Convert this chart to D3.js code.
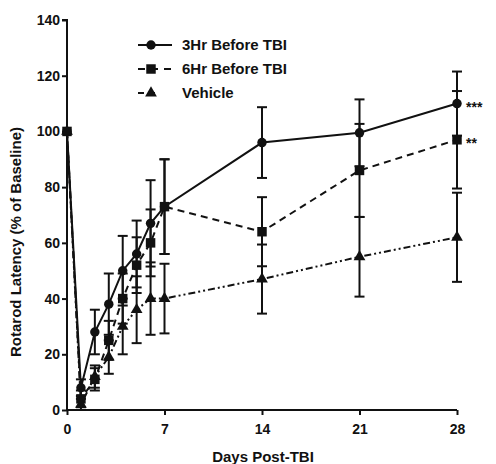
<!DOCTYPE html>
<html>
<head>
<meta charset="utf-8">
<script src="https://cdn.jsdelivr.net/npm/d3@7"></script>
<style>
  body { margin: 0; background: #fff; }
  text { font-family: "Liberation Sans", Arial, sans-serif; font-weight: bold; fill: #111; }
</style>
</head>
<body>
<svg width="496" height="464"></svg>
<script>
const days = [0, 1, 2, 3, 4, 5, 6, 7, 14, 21, 28];

const hr3Mean = [100, 8, 28, 38, 50, 56, 67, 73, 96, 99.5, 110];
const hr3Err  = [0, 3, 8, 11, 12.5, 12, 15.5, 17, 12.7, 12, 11.5];

const hr6Mean = [100, 4, 11, 25, 40, 52, 60, 73, 64, 86, 97];
const hr6Err  = [0, 3, 4, 7, 9, 10, 12, 17, 12.4, 16.7, 17.5];

const vehMean = [100, 2, 12, 19, 30, 36, 40, 40, 47, 55, 62];
const vehErr  = [0, 2, 4, 6, 10, 12, 13, 12.5, 12.4, 14.3, 16];

const xTicks = [0, 7, 14, 21, 28];
const yTicks = [0, 20, 40, 60, 80, 100, 120, 140];

const seriesNames = ["3Hr Before TBI", "6Hr Before TBI", "Vehicle"];
const stars = ["***", "**", ""];

const svg = d3.select("svg");
const margin = { top: 20, right: 39, bottom: 54, left: 67 };
const width = +svg.attr("width") - margin.left - margin.right;
const height = +svg.attr("height") - margin.top - margin.bottom;

const ink = "#111";

const x = d3.scaleLinear().domain([0, 28]).range([0, width]);
const y = d3.scaleLinear().domain([0, 140]).range([height, 0]);

const g = svg.append("g").attr("transform", `translate(${margin.left},${margin.top})`);

// axes
const xAxis = g.append("g")
  .attr("transform", `translate(0,${height})`)
  .call(d3.axisBottom(x).tickValues(xTicks).tickSize(5).tickPadding(9));
const yAxis = g.append("g")
  .call(d3.axisLeft(y).tickValues(yTicks).tickSize(5).tickPadding(2));

[xAxis, yAxis].forEach(a => {
  a.selectAll(".domain, .tick line").attr("stroke", ink).attr("stroke-width", 2);
  a.selectAll(".tick text").attr("font-size", 14).attr("fill", ink)
    .attr("font-family", "Liberation Sans, Arial, sans-serif").attr("font-weight", "bold");
});
yAxis.select(".domain").attr("d", `M0,${height}V0H-5`);
xAxis.select(".domain").attr("d", `M0,0H${width}`);

// axis titles
svg.append("text")
  .attr("x", margin.left + width / 2 + 1)
  .attr("y", 462)
  .attr("text-anchor", "middle")
  .attr("font-size", 15)
  .text("Days Post-TBI");

svg.append("text")
  .attr("transform", `translate(21,${margin.top + height / 2 + 27}) rotate(-90)`)
  .attr("text-anchor", "middle")
  .attr("font-size", 15)
  .text("Rotarod Latency (% of Baseline)");

const series = [
  { name: seriesNames[0], mean: hr3Mean, err: hr3Err, dash: null, shape: d3.symbolCircle, size: 70 },
  { name: seriesNames[1], mean: hr6Mean, err: hr6Err, dash: "7,5", shape: d3.symbolSquare, size: 90 },
  { name: seriesNames[2], mean: vehMean, err: vehErr, dash: "7,3,2,3,2,3", shape: d3.symbolTriangle, size: 60 }
];

const line = d3.line().x(d => x(d.day)).y(d => y(d.v));

series.forEach((s, i) => {
  const pts = days.map((d, k) => ({ day: d, v: s.mean[k], e: s.err[k] }));
  const sg = g.append("g");

  // error bars
  const eb = sg.selectAll(".eb").data(pts.filter(p => p.e > 0)).enter().append("g");
  eb.append("line")
    .attr("x1", d => x(d.day)).attr("x2", d => x(d.day))
    .attr("y1", d => y(d.v - d.e)).attr("y2", d => y(d.v + d.e))
    .attr("stroke", ink).attr("stroke-width", 2);
  [-1, 1].forEach(sign => {
    eb.append("line")
      .attr("x1", d => x(d.day) - 5).attr("x2", d => x(d.day) + 5)
      .attr("y1", d => y(d.v + sign * d.e)).attr("y2", d => y(d.v + sign * d.e))
      .attr("stroke", ink).attr("stroke-width", 2);
  });

  sg.append("path")
    .datum(pts)
    .attr("d", line)
    .attr("fill", "none")
    .attr("stroke", ink)
    .attr("stroke-width", 2)
    .attr("stroke-dasharray", s.dash);

  sg.selectAll(".m").data(pts).enter().append("path")
    .attr("transform", d => `translate(${x(d.day)},${y(d.v)})`)
    .attr("d", d3.symbol().type(s.shape).size(s.size))
    .attr("fill", ink);

  if (stars[i]) {
    const last = pts[pts.length - 1];
    g.append("text")
      .attr("x", x(last.day) + 9)
      .attr("y", y(last.v) + 8)
      .attr("font-size", 14)
      .text(stars[i]);
  }

  // legend
  const ly = 45 + i * 24;
  const lg = svg.append("g");
  lg.append("line")
    .attr("x1", 138).attr("x2", 172).attr("y1", ly).attr("y2", ly)
    .attr("stroke", ink).attr("stroke-width", 2)
    .attr("stroke-dasharray", s.dash ? (i === 1 ? "7,6,7,6" : "6,4,2,3,2,20") : null);
  lg.append("path")
    .attr("transform", `translate(151,${ly})`)
    .attr("d", d3.symbol().type(s.shape).size(s.size))
    .attr("fill", ink);
  lg.append("text")
    .attr("x", 182).attr("y", ly + 5)
    .attr("font-size", 15)
    .text(s.name);
});
</script>
</body>
</html>
